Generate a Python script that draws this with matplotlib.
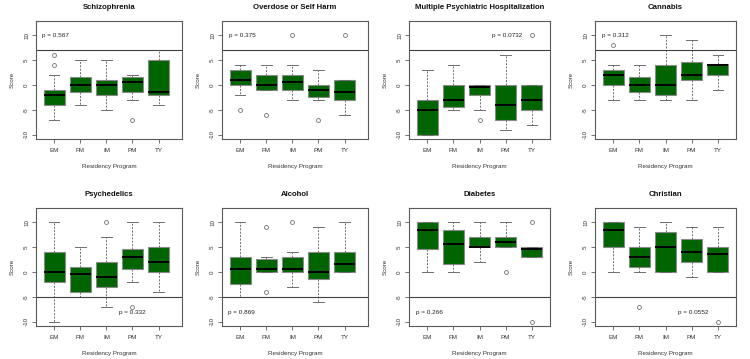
import matplotlib
matplotlib.use("Agg")
import matplotlib.pyplot as plt

plt.rcParams['font.family'] = ['Liberation Sans', 'DejaVu Sans']

groups = ["EM", "FM", "IM", "PM", "TY"]

# each panel: box lower/upper quartile, median, whisker ends, outliers
schiz_q1 = [-4, -1.5, -2, -1.5, -2]
schiz_med = [-2, 0, 0, 0.5, -1.5]
schiz_q3 = [-1, 1.5, 1, 1.5, 5]
schiz_lo = [-7, -4, -5, -3, -4]
schiz_hi = [2, 5, 5, 2, 7]
schiz_out = [[6, 4], [], [], [-7], []]

od_q1 = [0, -1, -1, -2.5, -3]
od_med = [1, 0, 0.5, -1, -1.5]
od_q3 = [3, 2, 2, 0, 1]
od_lo = [-2, -1, -3, -3, -6]
od_hi = [4, 4, 4, 3, 1]
od_out = [[-5], [-6], [10], [-7], [10]]

hosp_q1 = [-10, -4.5, -2, -7, -5]
hosp_med = [-5, -3, -0.5, -4, -3]
hosp_q3 = [-3, 0, 0, 0, 0]
hosp_lo = [-10, -5, -5, -9, -8]
hosp_hi = [3, 4, 0, 6, 0]
hosp_out = [[], [], [-7], [], [10]]

cann_q1 = [0, -1.5, -2, 1, 2]
cann_med = [2, 0, 0, 2, 3.9]
cann_q3 = [3, 1.5, 4, 4.5, 4.2]
cann_lo = [-3, -3, -3, -3, -1]
cann_hi = [4, 4, 10, 9, 6]
cann_out = [[8], [], [], [], []]

psy_q1 = [-2, -4, -3, 0.5, 0]
psy_med = [0, -0.5, -1, 3, 2]
psy_q3 = [4, 1, 2, 4.5, 5]
psy_lo = [-10, -5, -7, -2, -4]
psy_hi = [10, 5, 7, 10, 10]
psy_out = [[], [], [10], [-7], []]

alc_q1 = [-2.5, 0, 0, -1.5, 0]
alc_med = [0.5, 0.5, 0.5, 0, 1.5]
alc_q3 = [3, 2.5, 3, 4, 4]
alc_lo = [-5, 0, -3, -6, 0]
alc_hi = [10, 3, 4, 9, 10]
alc_out = [[], [9, -4], [10], [], []]

diab_q1 = [4.5, 1.5, 5, 5, 3]
diab_med = [8.5, 5.5, 5, 6, 4.5]
diab_q3 = [10, 8.5, 7, 7, 5]
diab_lo = [0, 0, 2, 5, 3]
diab_hi = [10, 10, 10, 10, 5]
diab_out = [[], [], [], [0], [10, -10]]

chr_q1 = [5, 1, 0, 2, 0]
chr_med = [8.5, 3, 5, 4, 3.5]
chr_q3 = [10, 5, 8, 6.5, 5]
chr_lo = [0, 0, 0, -1, 0]
chr_hi = [10, 9, 10, 9, 9]
chr_out = [[], [-7], [], [], [-10]]

titles = ["Schizophrenia", "Overdose or Self Harm",
          "Multiple Psychiatric Hospitalization", "Cannabis",
          "Psychedelics", "Alcohol", "Diabetes", "Christian"]
pvals = ["p = 0.567", "p = 0.375", "p = 0.0732", "p = 0.312",
         "p = 0.332", "p = 0.869", "p = 0.266", "p = 0.0552"]
ref_lines = [7, 7, 7, 7, -5, -5, -5, -5]

panels = [
    (schiz_q1, schiz_med, schiz_q3, schiz_lo, schiz_hi, schiz_out),
    (od_q1, od_med, od_q3, od_lo, od_hi, od_out),
    (hosp_q1, hosp_med, hosp_q3, hosp_lo, hosp_hi, hosp_out),
    (cann_q1, cann_med, cann_q3, cann_lo, cann_hi, cann_out),
    (psy_q1, psy_med, psy_q3, psy_lo, psy_hi, psy_out),
    (alc_q1, alc_med, alc_q3, alc_lo, alc_hi, alc_out),
    (diab_q1, diab_med, diab_q3, diab_lo, diab_hi, diab_out),
    (chr_q1, chr_med, chr_q3, chr_lo, chr_hi, chr_out),
]

# where the p value sits in each panel (data coords)
p_x = [0.54, 0.57, 3.47, 0.56, 3.47, 0.54, 0.55, 3.48]
p_y = [10, 10, 10, 10, -8.2, -8.2, -8.2, -8.2]

W, H = 750, 359
fig = plt.figure(figsize=(7.5, 3.59), dpi=100)

col_left = [36, 222, 409, 595]
col_width = [146, 146, 141, 141]
col_xmax = [5.9, 5.9, 5.7, 5.7]
row_top = [20.7, 207.7]
ax_h = 118.3

frame_col = "#5a5a5a"
txt_col = "#333333"

for i, (q1, med, q3, lo, hi, out) in enumerate(panels):
    r, c = divmod(i, 4)
    ax = fig.add_axes([col_left[c] / W, 1 - (row_top[r] + ax_h) / H,
                       col_width[c] / W, ax_h / H])
    stats = []
    for j in range(5):
        stats.append(dict(q1=q1[j], med=med[j], q3=q3[j],
                          whislo=lo[j], whishi=hi[j], fliers=out[j]))
    ax.bxp(stats, positions=range(1, 6), widths=0.8, patch_artist=True,
           boxprops=dict(facecolor="#006400", edgecolor="#8a8a8a", lw=0.8),
           medianprops=dict(color="black", lw=1.4),
           whiskerprops=dict(color="#6e6e6e", lw=0.7, linestyle=(0, (2, 1.5))),
           capprops=dict(color="#6e6e6e", lw=0.7),
           flierprops=dict(marker="o", markersize=2.8, markerfacecolor="none",
                           markeredgecolor="#707070", markeredgewidth=0.6))
    ax.axhline(ref_lines[i], color="#404040", lw=0.8)
    ax.text(p_x[i], p_y[i], pvals[i], fontsize=4.6, color="#222222",
            ha="left", va="center")
    ax.set_xlim(0.3, col_xmax[c])
    ax.set_ylim(-10.88, 12.88)
    ax.set_yticks([-10, -5, 0, 5, 10])
    ax.set_yticklabels(["-10", "-5", "0", "5", "10"], rotation=90, va="center")
    ax.set_xticks(range(1, 6))
    ax.set_xticklabels(groups)
    ax.tick_params(labelsize=4.5, colors=txt_col, length=3, width=0.6)
    ax.tick_params(axis="x", color=frame_col, pad=3.4)
    ax.tick_params(axis="y", color=frame_col, pad=2)
    for s in ax.spines.values():
        s.set_color(frame_col)
        s.set_linewidth(0.8)
    ax.set_title(titles[i], fontsize=5.6, fontweight="bold", pad=8.4,
                 color="#111111")
    ax.set_ylabel("Score", fontsize=4.5, color=txt_col, labelpad=6.5)
    ax.set_xlabel("Residency Program", fontsize=4.5, color=txt_col,
                  labelpad=7.8)

fig.savefig("out.png", dpi=100)
